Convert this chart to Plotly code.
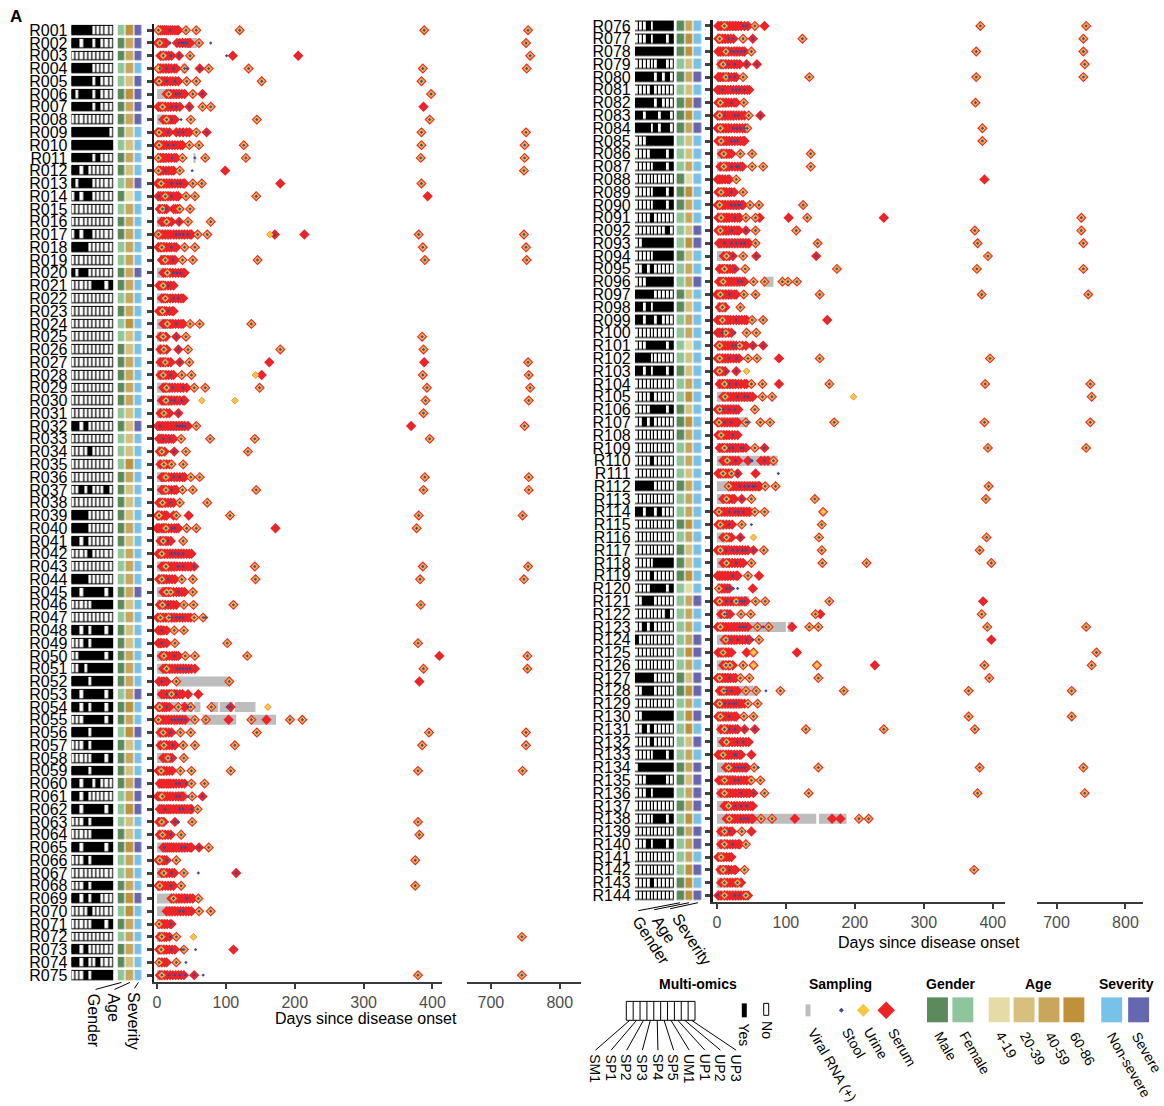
import plotly.graph_objects as go

W, H = 1164, 1106
def fx(x): return x / W
def fy(y): return 1 - y / H

patients = ["R%03d" % i for i in range(1, 145)]
omics_labels = ["SM1", "SP1", "SP2", "SP3", "SP4", "SP5", "UM1", "UP1", "UP2", "UP3"]
gender_labels = ["Male", "Female"]
age_labels = ["4-19", "20-39", "40-59", "60-86"]
severity_labels = ["Non-severe", "Severe"]
sampling_labels = ["Viral RNA (+)", "Stool", "Urine", "Serum"]
x_ticks_near = [0, 100, 200, 300, 400]
x_ticks_far = [700, 800]

omics = [
 "1111100000","1101101000","0000000000","1111100000","1111101000","1011101000","1111101000","0000000000","1111111110","1111111111",
 "1111101000","1101000000","1011100000","0101100000","0000000000","0000000000","0101100000","1111000000","0000000000","1011000000",
 "0000011101","0000000000","0000000000","0000000000","0000000000","0000000000","0000000000","0000000000","0000000000","0000000000",
 "0000000000","1101000000","0000000000","0000100000","0000000000","0000000000","0010100010","0000000000","1111000000","1111000000",
 "1101000000","0000100000","0000000000","1111000000","1101111101","0000011111","0000000000","1101011101","0001011111","0011111101",
 "0010111111","1111011111","1101111101","1101011101","0001111101","1111011111","0001011111","0000011101","1111011111","1101101000",
 "1101000000","1101111101","0001011111","0000011111","1101111101","0001011111","0000000000","0001011111","1101011000","0000100000",
 "0000011101","0000000000","1101000000","1101001000","0001011111",
 "0001011111","0001011101","1111111111","0000001100","1111101010","0000100000","1111101000","1101110110","1111010110","0001111111",
 "0000111101","0000011101","0000000000","0000011101","0000011101","0000100000","0000000010","0011111111","0000011111","0010100000",
 "0001111111","1111100000","1101011111","1101101000","0000000000","0001111101","1111000000","1101011101","0000000000","0000100000",
 "0000111101","0010100000","0000000000","0000000000","0000100000","0000000000","1111100000","0000000000","1101101000","0000000000",
 "0000000000","0000000000","0000011111","0000100000","0000111101","0011100000","0000000010","0010100000","1000000000","0000000000",
 "0000000000","1111100000","0011100000","0000000000","0011111111","0010100000","0000100000","0000011101","0111111111","0001111100",
 "0001011111","0000000000","0000011101","0000000000","0001011101","0000000000","0000000000","0000100000","0000000000",
]
gender = ("FMMFFMMMMFMMFMFMMFFMMFMFF" "MMMMMFMFFFMMMMMMFFFMMFMMM" "MMFMMFMMMMFFFMMFFMMFMFMMF"
          "MMMFMFMMMFFFMMMFFFMFFMM" "FFFFMFFMMMFFFMFFMFMMMFFF" "FFFFMMFFFFFMMFMFMFFFMM")
age = ("3222132211212022222222231" "1222211113211121222212112" "2223231212231132223322212"
       "23312133211203221312211" "220112313222122232113022" "2232132331221223222333")
severity = ("SSSNSSSSNNNNSNNNNNNSNNNNN" "NNNNNNSNNNNNNNNNNNNSNNNNN" "NNSNNSNNNSSSNNSNNNSNNNNNN"
            "NNNNSNSNSNNNNNNNSSNNSNN" "NNNNNNNNNNNNNNNNNNNNNNSN" "NSSNSSNSNSNSSSSNSSNSNS")

viral_rna = [
 "0-16","0-14 42-58","5-12","0-20 36-43","0-16","0-31","0-14 45-50","0-12","0-9","0-14",
 "0-14 53-56","0-7","0-22","0-19","0-7","0-9","0-19 24-27 31-34 38-41","0-16","4-19","0-9",
 "0-11","0-14","0-9","0-24","0-7","0-10","0-14","0-12","0-21","0-24",
 "0-9","0-43","0-14","0-9","0-14","0-14","0-14","0-14","0-7","0-14",
 "0-14","0-38","0-28","0-14","0-21","0-14","0-28","0-9","0-7","0-14",
 "0-43","0-5 28-105","0-12 14-28","0-17 20-32 35-52 54-63 77-89 91-110 113-143","0-53 66-115 136-173","0-14","0-14","0-16","0-12","0-28",
 "0-24 28-43","0-53","0-9","0-14","0-43","0-12","0-16","0-9","0-43","0-28",
 "0-16","0-12","0-14","0-9","0-16",
 "0-30","0-14","0-18 23-33","0-14","0-18","0-14","0-14","0-26","0-18","0-18",
 "0-18","0-18","0-9","0-14","0-14 18-33","0-18","0-18","0-50","0-18","0-18",
 "0-35 67-82","0-23","0-14","0-18","0-14","0-26","0-18","0-9","0-28","0-52",
 "0-28","0-45","0-18","0-33","0-88","0-23","0-18 19-43 45-62","0-18","0-52","0-14",
 "0-18","0-18","0-18","0-18","0-14","0-47","0-18","0-100 103-111","0-28","0-18",
 "0-18","0-18","0-59","0-35","0-16","0-18","0-18","0-23","0-21 23-43","0-28",
 "0-18","0-18","0-144 148-188","0-14","0-14","0-9","0-18","0-23 25-38","0-18 20-35",
]

serum = [
 "2 5 8 11 14 17 20 23 26 29 31 42 57 120 388 754","1 4 7 10 13 29 33 37 41 45 48 61 751","5 9 13 17 21 32 48 110 205 757",
 "2 5 9 13 17 21 25 28 40 62 75 133 386 752","1 3 7 11 15 19 23 27 31 43 57 152 384","14 17 20 24 28 32 36 40 52 66 398",
 "2 5 8 12 16 20 24 28 33 47 66 78 387","9 12 14 17 20 23 26 49 145 396","1 3 6 10 14 18 28 33 38 43 47 57 72 384 751",
 "1 3 6 10 14 18 22 26 30 34 37 47 61 126 384 749","2 5 9 13 17 21 25 28 37 70 129 383 749","2 5 9 13 17 21 24 33 99 748",
 "1 3 6 10 14 18 22 26 30 34 38 40 52 65 179 384","2 5 9 12 16 20 24 28 31 42 55 144 393","4 8 11 14 24 27 30 33 48",
 "7 10 14 17 21 32 45 78","1 4 8 12 16 20 24 28 32 36 40 44 48 50 59 73 171 214 380 748","2 5 7 10 14 18 21 25 28 40 55 386 751",
 "7 10 12 16 20 23 26 37 52 146 389 752","9 12 15 19 23 27 31 35 38 40","3 6 9 12 16 20 24",
 "7 10 12 15 19 23 27 31 35 38","3 6 8 11 14 18 22 24","9 12 15 19 23 27 31 35 38 48 62 137",
 "5 9 13 28 42 385","5 10 14 31 45 179 387","5 9 12 16 20 33 47 163 388 754",
 "5 9 13 17 21 24 36 50 152 386 755","9 12 14 18 22 26 30 34 38 43 54 70 149 392 757","7 10 13 17 21 25 29 33 38 40 390 755",
 "5 10 14 18 31 387","1 4 8 12 16 20 24 28 32 36 40 45 57 369 749","3 6 9 13 17 21 24 35 77 142 396",
 "4 7 11 25 42 132","5 10 14 18 21 38","7 10 13 17 21 25 29 33 37 40 49 62 389 755",
 "7 10 13 17 21 25 28 37 52 144 387 755","3 6 8 12 16 20 24 33 73","1 3 7 11 14 24 28 46 106 380 746",
 "0 3 7 10 13 17 21 25 28 31 43 57 172 377","5 9 13 16 20 38","2 5 7 11 15 19 23 27 31 35 39 43 47 50",
 "7 10 13 17 21 25 29 33 37 41 45 49 54 142 386 754","3 7 10 14 18 22 26 36 52 143 382 748","9 12 14 17 20 24 28 32 36 40 52",
 "4 8 12 16 20 24 28 39 53 111 383","1 5 9 13 17 21 25 29 33 37 41 45 49 54 67","2 5 7 10 14 25 39",
 "2 5 7 10 14 26 102 379","7 10 14 18 22 25 28 31 41 55 131 410 753","9 12 14 18 22 26 30 34 38 42 46 50 55 387 753",
 "3 7 10 14 28 105 381","7 10 14 18 21 25 29 33 37 45 60","2 4 8 11 14 18 31 40 49 79 107",
 "1 2 5 9 13 17 21 25 29 33 37 41 55 71 104 137 159 193 211","5 9 13 17 21 34 49 145 395 751","5 10 14 18 22 26 38 55 113 385 751",
 "9 13 16 19 22 39","2 6 10 14 18 22 34 50 107 379 746","4 7 10 14 17 20 24 28 32 36 40 50 69",
 "1 4 7 11 15 19 23 27 31 35 38 51 66","4 7 10 14 17 20 24 28 32 36 40 44 48 50 59","3 7 10 26 51 379",
 "4 8 12 16 20 35 381","9 12 15 18 21 24 28 32 36 40 44 48 50 61 75","2 4 8 11 14 28 375",
 "7 10 14 18 22 25 39 115","2 4 8 12 16 20 24 35 375","21 24 28 32 36 40 44 48 52 60",
 "14 18 22 26 30 34 38 42 46 50 61 78","3 7 11 15 19 21","4 7 11 14 18 28 745",
 "3 6 10 14 18 22 26 39 111","3 7 11 14 28","4 7 11 15 19 23 27 31 35 39 54 379 745",
 "2 6 11 15 19 23 27 31 35 40 45 55 69 382 743","2 4 8 12 16 20 24 38 52 124 739","2 5 9 13 17 21 25 29 33 37 40 50 376 739",
 "6 9 13 17 21 25 29 33 43 58 741","2 5 9 13 17 21 25 28 38 134 376 739","1 4 8 12 16 20 24 28 32 36 40 44 47",
 "2 5 9 13 17 21 25 28 39 375","1 4 8 12 16 20 24 28 32 36 40 46 63","1 5 9 13 17 21 25 29 33 37 41 44 385",
 "2 6 10 14 18 22 26 30 34 38 40 385","7 10 14 18 21 34 51 136","5 10 14 18 22 26 30 34 37 51 67 136",
 "1 4 8 12 16 18 28 388","2 6 10 14 18 21 25 38","1 4 8 12 16 20 24 28 32 36 38 48 61 125",
 "2 6 10 14 18 22 26 30 33 42 56 62 104 131 242 736","2 5 9 13 17 21 25 29 32 42 56 115 374 736","3 6 10 14 18 22 26 30 34 38 42 46 56 146 378 739",
 "10 14 18 23 38 57 144 393","4 8 11 15 19 23 26 41 174 377 739","3 6 9 13 17 21 25 29 33 37 40 53 69 95 103 116",
 "0 3 5 9 13 17 21 25 28 39 56 149 384 746","4 8 12 34","1 4 8 12 16 20 24 28 32 36 40 43 51 67 160",
 "1 4 8 13 17 21 43 57","2 4 8 12 16 20 24 28 33 37 42 52 67","1 4 8 12 16 20 24 28 32 45 58 90 149 396",
 "1 4 8 12 28","4 8 11 15 19 23 27 31 35 40 43 50 66 90 163 389 749","9 12 16 20 24 28 32 36 40 44 48 52 66 80 751",
 "1 4 8 12 16 20 24 28 31 55","1 3 7 11 15 19 23 27 30 42 63 77 170 388 749","2 6 10 14 18 22 26 30",
 "4 8 11 15 19 23 27 31 35 38 42 55 69 393 743","9 12 15 19 23 27 31 45 64 69 74 82","2 5 9 13 17 21 30 56",
 "17 20 24 28 32 36 40 44 48 52 56 60 62 70 85 394","9 14 18 22 25 36 50 142 390","1 3 7 11 15 19 23 27 31 35 39 43 47 55 69 154",
 "2 5 9 14 18 22 36 152","9 14 18 21 34 148 391","1 5 9 13 17 21 25 29 33 37 41 45 53 68 152 381",
 "9 14 18 22 26 30 34 38 50 153 217 398","1 4 8 12 16 20 24 28 30 45 61","3 7 11 15 18 52",
 "1 4 8 12 16 20 24 28 32 36 40 42 56 70 163 386","6 11 15 19 35 49 143 150 384","1 5 9 13 17 21 25 29 33 37 41 45 59 75 109 134 147 392 743",
 "11 13 17 21 25 29 33 37 41 45 47 61 398","2 6 9 13 17 21 43 53 116 758","9 13 17 19 23 38 53 145 229 388 751",
 "1 4 8 12 16 20 24 27 34 47 147 395","4 7 10 14 18 22 26 30 42 57 92 184 365 722","1 4 8 12 16 20 24 28 32 36 40 45 59",
 "2 5 9 13 17 21 25 28 39 53 365 722","6 11 15 19 23 27 30 40 55 129 242 374","9 14 18 22 26 30 34 38 42 46",
 "2 5 9 13 17 21 25 29 33 35 50","13 17 21 25 29 33 37 41 43 54 147 381 739","3 7 11 15 19 23 27 31 35 39 43 48 50 63",
 "6 11 15 19 23 27 31 35 39 43 47 53 69 133 378 741","11 14 17 21 25 29 33 37 41 45 49 52","14 18 22 26 30 34 38 42 46 50 52 64 80 113 167 179 206 220",
 "6 11 15 19 22 36 50","6 11 15 19 23 27 31 33 42","2 6 10 14 18 21",
 "5 9 13 17 21 25 27 40 373","6 11 15 19 23 27 30 35","2 6 11 15 19 23 27 31 35 39 42 45",
]

urine = [
 "2 42 57 120 388 754","4 61 751","9 48 757","2 40 75 133 386 752","3 43 57 152 384","17 52 398","8 66 78","14 49 145 396",
 "3 57 384 751","3 47 61 126 384 749","2 37 70 129 383 749","2 33 748","6 52 65 384","12 42 55 144","8 33 48","14 45 78",
 "2 59 73 164 380 748","7 40 55 386 751","12 37 52 146 389 752","15","9","12","8","15 48 62 137","9 42 385",
 "10 45 179 387","12 47 754","9 36 50 143 386 755","14 54 70 149 392 757","13 65 113 390 755","10 387","57 749",
 "35 77 142 396","7 42 132","10 21 38","13 49 62 389 755","13 37 52 144 387 755","8 33 73","3 28 106 380 746",
 "13 43 57 377","9 38","7","13 142 386 754","7 36 52 143 382 748","14 20 52","8 39 53 111 383","5 17 54 67","25 39",
 "26 102 379","10 41 55 131 753","14 387 753","28 105","21","4 31 49 79 161","2 55 71 137 193 211","9 34 49 145 395 751",
 "10 38 55 113 385 751","16 39","6 34 50 107 379 746","50 69","7 51","59","7 51 379","8 35 381","75","4 28 375","10 39",
 "4 35 375","24 60","61 78","3","7 28 53 745","6 39","3 28","7 379 745",
 "11 55 382 743","4 38 124 739","13 50 376 739","9 741","13 38 134 376 739","","5 39 375","4 46","5 44 385","6 385",
 "10 34 51 136","10 51 67 136","28","6 38","4 48 61 125","6 42 56 131 736","5 56 115 374 736","56 146 378 739",
 "14 38 393","11 41 174 377 739","9 53 69 95 103 116","5 39 56 149 384 746","8 34","8 51 67","13 43 57","4 33",
 "4 45 58 149 396","4 43","11 50 66 163 389 749","12 66 80 198 751","4 55","3 42 63 77 170 388 749","6","11 55 393 743",
 "15 82","9 21","17 70 85 394","14 50 142 390","3 55 69 154","5 36 152","14 53 148 391","5 68 152 381","14 50 153 217 398",
 "45","3","4 28 56 70 163","11 35 49 143 384","5 59 75 134 147 392 743","13 61","9 53 758","13 19 38 53 145 388 751",
 "4 34 47 147 395","10 42 57 92 184 365 722","4 45 59","5 39 53 365 722","11 129 242 374","14","9","17 54 147 381 739",
 "11 50 63","11 69 133 378 741","17","18 64 80 206 220","11 36","11 42","6","9 40 373","11 30","11 42",
]

stool = [
 "2 19 42 57 120 388 754","4 19 32 36 39 43 61 78 751","9 20 32 48 101 757","4 14 24 40 44 62 75 133 386 752",
 "3 14 26 43 57 152 384","17 28 33 52 66 398","8 21 28 47 66 78","14 21 35 49 145 396","3 16 31 38 57 72 384 751",
 "3 16 24 47 61 126 384 749","2 22 37 55 70 129 383 749","2 12 33 51 748","6 21 29 34 52 65 384","2 12 21 42 55 144",
 "8 13 33 48","14 32 45 78","2 28 33 38 45 59 73 171 380 748","7 21 40 55 386 751","12 23 37 52 146 389 752",
 "15 24 29 34","9 16","12 24 31","8 16","15 28 48 62 137","9 28 42 385",
 "10 31 45 179 387","12 33 47 754","9 20 36 50 386 755","14 23 38 54 70 149 392 757","13 20 26 36 390 755","10 31 387",
 "4 29 33 37 41 57 749","9 19 35 77 142 396","7 25 42 132","10 21 38","13 24 33 49 62 389 755","13 21 37 52 144 387 755",
 "8 19 33 73","3 28 106 380 746","13 21 26 43 57 377","9 16 38","7 21 26 31 38","13 31 38 54 142 386 754",
 "7 16 36 52 143 382 748","14 20 31 52","8 16 39 53 111 383","5 17 21 28 33 38 54 67 70","7 25 39","7 26 102 379",
 "10 25 41 55 131 753",
 "14 29 33 38 43 48 387 753","7 28 105","14 21 28","4 14 31 45 49 79 102 107","2 21 26 31 36 41 55 71 137 193 211",
 "9 19 34 49 145 395 751","10 23 38 55 113 385 751","16 21 39","6 34 50 107 379 746","28 33 43 50 69","8 28 33 45 51 66",
 "12 33 38 50 59","7 26 31 51 379","8 20 35 381","11 36 41 61 75","4 14 28 375","10 21 39 60 115","4 20 35 375",
 "24 43 60","33 38 61 78","3 20","7 20 28 745","6 21 36 39 56","3 28 42","7 17 26 33 41 54 67 379 745",
 "11 38 43 55 382 743","4 17 24 38 52 124 739","13 20 25 30 35 40 50 376 739","9 16 26 43 58 741","13 18 26 38 134 376 739",
 "8 23 28 33 40","5 21 39 375","4 11 26 31 46 63","5 24 29 34 40 44 385","6 21 26 30 385","10 34 51 136",
 "10 21 28 32 51 67 136","28","6 21 38","4 21 26 31 34 48 61 125","6 26 42 56 131 736","5 21 42 56 115 374 736",
 "11 21 28 35 40 56 146 378 739","14 23 38 57 144 393","11 26 41 174 377 739","9 31 36 53 69 95 103 116",
 "5 18 39 56 149 384 746","8 34","8 28 51 67","8 13 26 43 57","4 23 28 33 52 67","4 18 28 45 58 149 396","4 13 28",
 "11 18 28 50 66 163 389 749","12 30 40 45 66 80 751","4 9 18 26 55","3 11 21 42 45 63 77 170 388 749","6 23",
 "11 18 23 35 38 55 69 393 743","15 27 49 51 69 82","9 21 30 89","17 33 40 46 52 55 70 85 394","14 36 50 142 390",
 "3 18 26 31 38 55 69","5 18 36 50 152","14 34 148 391","5 13 23 30 37 42 53 68 152 381","14 28 50 153 217 398",
 "23 45","3 14 19 24 30","4 14 21 28 33 37 40 56 70 163","11 14 35 49 143 384","5 33 38 42 59 67 75 134 147 392 743",
 "13 19 30 43 52 61","9 758","13 19 38 388 751","4 18 34 47 147 395","10 14 21 42 57 71 92 184 365 722",
 "4 11 18 24 28 45 59","5 18 39 53 365 722","11 18 26 40 55 129 242 374","14 30 38","9 26 28",
 "17 26 31 36 40 54 60 147 381 739","11 26 31 50 63","11 35 53 69 133 378 741","17 26 35 43","18 35 40 45 64 80 206 220",
 "11 18 36","11 23 42","6","9 18 40 373","11 30","1 11 26 33 42",
]

SERUM_C, URINE_C, URINE_EDGE, STOOL_C, RNA_C = "#ED2427", "#F7C83D", "#F28A36", "#3A4A9E", "#BDBDBD"
GENDER_C = ["#5B8A5C", "#8FC59B"]
AGE_C = ["#E4DCA4", "#D7C07E", "#CAA65C", "#C0913B"]
SEV_C = ["#78C2EA", "#6567B0"]
meta_colors = GENDER_C + AGE_C + SEV_C

def nums(s):
    return [float(v) for v in s.split()]

panels = [
    dict(idx=list(range(0, 75)), ytop=21.9, ybot=983.1, omics=(70.7, 112.7), meta=(117.0, 142.0),
         seg1=(153.3, 443.0), r1=(-4.9, 414.0), seg2=(468.0, 583.0), r2=(665.3, 831.6),
         axw=2, standoff=76, title_x=367, title_y=1020),
    dict(idx=list(range(75, 144)), ytop=17.6, ybot=903.1, omics=(636.7, 675.7), meta=(678.3, 704.3),
         seg1=(715.0, 1008.0), r1=(-5.8, 417.3), seg2=(1040.0, 1147.0), r2=(671.0, 825.6),
         axw=3, standoff=71, title_x=932, title_y=944),
]

fig = go.Figure()
layout = dict(width=W, height=H, margin=dict(l=0, r=0, t=0, b=0), showlegend=False,
              plot_bgcolor="white", paper_bgcolor="white", barmode="overlay",
              font=dict(family="Liberation Sans, Arial, sans-serif", color="black"))
annotations, shapes = [], []

scale = []
for k, c in enumerate(meta_colors):
    scale.append([k / 8, c]); scale.append([(k + 1) / 8, c])

for p, P in enumerate(panels):
    xo, xm, xs1, xs2 = ["x" + (str(4 * p + j) if 4 * p + j > 1 else "") for j in (1, 2, 3, 4)]
    ya = "y" + (str(p + 1) if p > 0 else "")
    idx = P["idx"]; n = len(idx); rows = list(range(n))
    edges = [i - 0.5 for i in range(n + 1)]
    fig.add_trace(go.Heatmap(z=[[1] for _ in rows], x=[-0.62, 9.62], y=edges, colorscale=[[0, "#000"], [1, "#000"]],
                             showscale=False, ygap=2.6, xaxis=xo, yaxis=ya, hoverinfo="skip"))
    fig.add_trace(go.Heatmap(z=[[int(c) for c in omics[i]] for i in idx], x=list(range(10)), y=rows,
                             colorscale=[[0, "#fff"], [1, "#000"]], zmin=0, zmax=1, showscale=False,
                             xgap=1.2, ygap=4.6, xaxis=xo, yaxis=ya, hoverinfo="skip"))
    zmeta = [[0 if gender[i] == "M" else 1, 2 + int(age[i]), 6 if severity[i] == "N" else 7] for i in idx]
    fig.add_trace(go.Heatmap(z=zmeta, x=[0, 1, 2], y=rows, colorscale=scale, zmin=-0.5, zmax=7.5, showscale=False,
                             xgap=1.2, ygap=2.6, xaxis=xm, yaxis=ya, hoverinfo="skip"))
    by, bb, bl = [], [], []
    for r, i in enumerate(idx):
        for seg in viral_rna[i].split():
            a, b = [float(v) for v in seg.split("-")]
            by.append(r); bb.append(a); bl.append(b - a)
    fig.add_trace(go.Bar(y=by, x=bl, base=bb, orientation="h", width=0.78, marker=dict(color=RNA_C, line=dict(width=0)),
                         xaxis=xs1, yaxis=ya, hoverinfo="skip"))
    for data, sty in ((serum, dict(symbol="diamond", size=8, color=SERUM_C, line=dict(width=0))),
                      (urine, dict(symbol="diamond", size=5.2, color=URINE_C, line=dict(width=0.9, color=URINE_EDGE))),
                      (stool, dict(symbol="diamond", size=2.6, color=STOOL_C, line=dict(width=0)))):
        for ax, lo, hi in ((xs1, -100, 500), (xs2, 500, 2000)):
            xx, yy = [], []
            for r, i in enumerate(idx):
                for v in nums(data[i]):
                    if lo <= v < hi:
                        xx.append(v); yy.append(r)
            fig.add_trace(go.Scatter(x=xx, y=yy, mode="markers", marker=sty, cliponaxis=False,
                                     xaxis=ax, yaxis=ya, hoverinfo="skip"))
    ydom = [fy(P["ybot"]), fy(P["ytop"])]
    layout["yaxis" + (str(p + 1) if p > 0 else "")] = dict(
        domain=ydom, range=[n - 0.5, -0.5], autorange=False, anchor=xs1, tickmode="array", tickvals=rows,
        ticktext=[patients[i] for i in idx], ticks="outside", ticklen=5, tickwidth=2.5, tickcolor="#444",
        showline=True, linewidth=P["axw"], linecolor="#1a1a1a", showgrid=False, zeroline=False,
        tickfont=dict(size=16, color="black"), ticklabelstandoff=P["standoff"])
    def xa(name, dom, rng, **kw):
        d = dict(domain=[fx(dom[0]), fx(dom[1])], range=list(rng), autorange=False, anchor=ya,
                 showgrid=False, zeroline=False)
        d.update(kw)
        layout["xaxis" + name[1:]] = d
    xa(xo, P["omics"], (-0.5, 9.5), visible=False)
    xa(xm, P["meta"], (-0.5, 2.5), visible=False)
    common = dict(showline=True, linewidth=2, linecolor="#3a3a3a", ticks="outside", ticklen=5, tickwidth=2,
                  tickcolor="#3a3a3a", tickfont=dict(size=16, color="#4d4d4d"), tickmode="array")
    xa(xs1, P["seg1"], P["r1"], tickvals=x_ticks_near, **common)
    xa(xs2, P["seg2"], P["r2"], tickvals=x_ticks_far, **common)
    annotations.append(dict(text="Days since disease onset", x=fx(P["title_x"]), y=fy(P["title_y"]), xref="paper",
                            yref="paper", showarrow=False, font=dict(size=16, color="black"),
                            xanchor="center", yanchor="middle"))

for name, x0, x1, y1, tx, ty in (("Gender", 121, 95, 991, 93, 993), ("Age", 129.5, 114, 991, 113, 993),
                                 ("Severity", 138, 134, 990, 133, 992)):
    shapes.append(dict(type="line", xref="paper", yref="paper", x0=fx(x0), y0=fy(984), x1=fx(x1), y1=fy(y1),
                       line=dict(color="black", width=1)))
    annotations.append(dict(text=name, x=fx(tx), y=fy(ty), xref="paper", yref="paper", showarrow=False,
                            textangle=90, xanchor="center", yanchor="top", font=dict(size=16)))
for name, x0, x1, y1, tx, ty in (("Gender", 682, 640, 912, 628, 912), ("Age", 691, 656, 911, 648, 911),
                                 ("Severity", 700, 672, 910, 668, 909)):
    shapes.append(dict(type="line", xref="paper", yref="paper", x0=fx(x0), y0=fy(904), x1=fx(x1), y1=fy(y1),
                       line=dict(color="black", width=1)))
    annotations.append(dict(text=name, x=fx(tx), y=fy(ty), xref="paper", yref="paper", showarrow=False,
                            textangle=57, xanchor="left", yanchor="top", font=dict(size=16)))

annotations.append(dict(text="<b>A</b>", x=fx(7), y=fy(3), xref="paper", yref="paper", showarrow=False,
                        xanchor="left", yanchor="top", font=dict(size=17)))

# ---------------- legend ----------------
def ptext(t, x, y, angle=0, size=14, xa="center", ya="middle", bold=False):
    annotations.append(dict(text=("<b>%s</b>" % t) if bold else t, x=fx(x), y=fy(y), xref="paper", yref="paper",
                            showarrow=False, textangle=angle, xanchor=xa, yanchor=ya, font=dict(size=size)))
def prect(x0, y0, x1, y1, fill, line="rgba(0,0,0,0)", lw=0):
    shapes.append(dict(type="rect", xref="paper", yref="paper", x0=fx(x0), y0=fy(y0), x1=fx(x1), y1=fy(y1),
                       fillcolor=fill, line=dict(color=line, width=lw)))
def pdiamond(cx, cy, r, fill):
    path = "M %f,%f L %f,%f L %f,%f L %f,%f Z" % (fx(cx - r), fy(cy), fx(cx), fy(cy - r), fx(cx + r), fy(cy),
                                                 fx(cx), fy(cy + r))
    shapes.append(dict(type="path", xref="paper", yref="paper", path=path, fillcolor=fill, line=dict(width=0)))

ptext("Multi-omics", 700, 986, size=14, bold=True)
bx0, bx1, by0, by1 = 628, 697, 1003, 1022
cw = (bx1 - bx0) / len(omics_labels)
prect(bx0, by0, bx1, by1, "white", "black", 1)
for k, lab in enumerate(omics_labels):
    if k:
        shapes.append(dict(type="line", xref="paper", yref="paper", x0=fx(bx0 + k * cw), y0=fy(by0),
                           x1=fx(bx0 + k * cw), y1=fy(by1), line=dict(color="black", width=1)))
    lx = 597 + k * 15.7
    shapes.append(dict(type="line", xref="paper", yref="paper", x0=fx(bx0 + (k + 0.5) * cw), y0=fy(by1),
                       x1=fx(lx), y1=fy(1052), line=dict(color="black", width=1)))
    ptext(lab, lx, 1054, angle=90, xa="center", ya="top")
prect(744, 1005, 749, 1019, "black")
ptext("Yes", 746.5, 1023, angle=90, ya="top")
prect(766, 1005, 771, 1017, "white", "black", 1)
ptext("No", 768.5, 1021, angle=90, ya="top")

ptext("Sampling", 843, 986, bold=True)
prect(808, 1006, 813, 1018, RNA_C)
pdiamond(844, 1012, 2.5, STOOL_C)
pdiamond(866, 1012, 6.5, URINE_C)
pdiamond(889, 1012, 8.8, SERUM_C)
for lab, x in zip(sampling_labels, (805, 839, 861, 885)):
    ptext(lab, x, 1024, angle=60, size=14, xa="left", ya="top")

ptext("Gender", 954, 986, bold=True)
for k, (lab, c) in enumerate(zip(gender_labels, GENDER_C)):
    x0 = 930 + k * 25.5
    prect(x0, 999, x0 + 21, 1024, c)
    ptext(lab, x0 + 1, 1028, angle=60, size=14, xa="left", ya="top")
ptext("Age", 1042, 986, bold=True)
for k, (lab, c) in enumerate(zip(age_labels, AGE_C)):
    x0 = 992 + k * 25
    prect(x0, 999, x0 + 21, 1024, c)
    ptext(lab, x0 + 1, 1028, angle=60, size=14, xa="left", ya="top")
ptext("Severity", 1130, 986, bold=True)
for k, (lab, c) in enumerate(zip(severity_labels, SEV_C)):
    x0 = 1105 + k * 27
    prect(x0, 999, x0 + 21, 1024, c)
    ptext(lab, x0 - 3 * k, 1028, angle=60, size=14, xa="left", ya="top")

layout["annotations"] = annotations
layout["shapes"] = shapes
fig.update_layout(**layout)
fig.write_html("out.html", config={"displayModeBar": False},
               post_script="document.body.style.margin='0px';document.body.style.overflow='hidden';")
